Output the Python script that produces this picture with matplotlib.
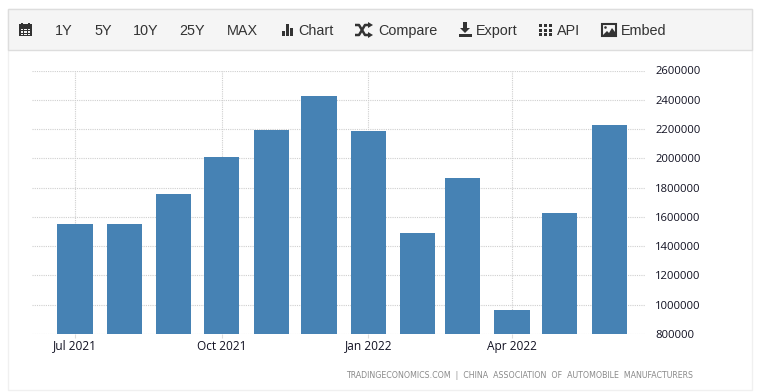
import matplotlib
matplotlib.use("Agg")
import matplotlib.pyplot as plt
import matplotlib.patches as mpatches
from matplotlib.ticker import FuncFormatter
from datetime import datetime, timedelta

W, H = 764, 392

months = ["2021-07", "2021-08", "2021-09", "2021-10", "2021-11", "2021-12",
          "2022-01", "2022-02", "2022-03", "2022-04", "2022-05", "2022-06"]
sales = [1550000, 1550000, 1755000, 2008000, 2192000, 2425000,
         2185000, 1490000, 1865000, 965000, 1625000, 2225000]
y_ticks = [800000, 1000000, 1200000, 1400000, 1600000, 1800000,
           2000000, 2200000, 2400000, 2600000]
x_ticks = ["2021-07", "2021-10", "2022-01", "2022-04"]
x_tick_labels = ["Jul 2021", "Oct 2021", "Jan 2022", "Apr 2022"]
range_buttons = ["1Y", "5Y", "10Y", "25Y", "MAX"]
range_button_x = [64, 103, 146, 192, 242]
menu_items = ["Chart", "Compare", "Export", "API", "Embed"]
menu_item_x = [298.5, 378, 476, 557, 620.5]
source = "TRADINGECONOMICS.COM  |  CHINA  ASSOCIATION  OF  AUTOMOBILE  MANUFACTURERS"

BAR_COLOR = "#4682b4"
TEXT_COLOR = "#333333"
GRID_COLOR = "#cfcfcf"


def to_date(m):
    return datetime.strptime(m, "%Y-%m")


fig = plt.figure(figsize=(W / 100, H / 100), dpi=100, facecolor="white")

# overlay in pixel coordinates for the page furniture (toolbar, frame)
bg = fig.add_axes([0, 0, 1, 1], zorder=0)
bg.set_xlim(0, W)
bg.set_ylim(H, 0)
bg.axis("off")

bg.add_patch(mpatches.Rectangle((8, 9), 744, 381, facecolor="white", edgecolor="#f0f0f0", linewidth=1))
bg.add_patch(mpatches.Rectangle((8, 9), 744, 41, facecolor="#f5f5f5", edgecolor="#dddddd", linewidth=1))

for label, x in zip(range_buttons, range_button_x):
    bg.text(x, 30.5, label, ha="center", va="center", fontsize=10.4,
            family="Liberation Sans", color=TEXT_COLOR)
for label, x in zip(menu_items, menu_item_x):
    bg.text(x, 30.5, label, ha="left", va="center", fontsize=10.4,
            family="Liberation Sans", color=TEXT_COLOR)

ICON = "#333333"
# calendar
bg.add_patch(mpatches.Rectangle((19, 24), 13, 12, facecolor=ICON, edgecolor="none"))
for gx in (21, 24.3, 27.6):
    for gy in (28.5, 31, 33.5):
        bg.add_patch(mpatches.Rectangle((gx, gy), 2.2, 1.5, facecolor="#f5f5f5", edgecolor="none"))
bg.add_patch(mpatches.Rectangle((21, 22.5), 1.6, 2, facecolor=ICON, edgecolor="none"))
bg.add_patch(mpatches.Rectangle((28, 22.5), 1.6, 2, facecolor=ICON, edgecolor="none"))
# chart bars
for bx, top in ((281.5, 31), (285.5, 24), (289.5, 28)):
    bg.add_patch(mpatches.Rectangle((bx, top), 3, 36 - top, facecolor=ICON, edgecolor="none"))
# shuffle arrows
bg.plot([355, 359, 365, 369], [25, 25, 35, 35], color=ICON, lw=1.8, solid_capstyle="butt")
bg.plot([355, 359, 365, 369], [35, 35, 25, 25], color=ICON, lw=1.8, solid_capstyle="butt")
bg.add_patch(mpatches.Polygon([[368, 22], [373, 25], [368, 28]], facecolor=ICON, edgecolor="none"))
bg.add_patch(mpatches.Polygon([[368, 32], [373, 35], [368, 38]], facecolor=ICON, edgecolor="none"))
# export / download
bg.add_patch(mpatches.Rectangle((463, 22), 4, 7, facecolor=ICON, edgecolor="none"))
bg.add_patch(mpatches.Polygon([[460, 28], [470, 28], [465, 33]], facecolor=ICON, edgecolor="none"))
bg.add_patch(mpatches.Rectangle((459, 34), 13, 2.5, facecolor=ICON, edgecolor="none"))
# api grid
for gx in (539, 544, 549):
    for gy in (24, 28.5, 33):
        bg.add_patch(mpatches.Rectangle((gx, gy), 3.4, 3.2, facecolor=ICON, edgecolor="none"))
# embed picture
bg.add_patch(mpatches.Rectangle((602, 24), 14, 12, facecolor="#f5f5f5", edgecolor=ICON, linewidth=1.5))
bg.add_patch(mpatches.Polygon([[603, 35], [607, 31], [609, 33], [612, 28], [615, 32], [615, 35]],
                              facecolor=ICON, edgecolor="none"))
bg.add_patch(mpatches.Circle((605.5, 27.5), 1.3, facecolor=ICON, edgecolor="none"))

bg.text(693.5, 376, source, ha="right", va="center", fontsize=5.65,
        family="DejaVu Sans", color="#8a8a8a")

# main chart, axes box set so the ticks land on the same pixels as the reference
left, right, top, bottom = 32, 645, 70.5, 334
ax = fig.add_axes([left / W, 1 - bottom / H, (right - left) / W, (bottom - top) / H], zorder=1)
ax.patch.set_alpha(0)

dates = [to_date(m) for m in months]
bar_width = timedelta(days=22)
ax.bar(dates, sales, width=bar_width, color=BAR_COLOR, zorder=3)

px_per_day = 1.595
x0 = to_date("2021-07")
ax.set_xlim(x0 - timedelta(days=(75 - left) / px_per_day), x0 + timedelta(days=(right - 75) / px_per_day))
ax.set_ylim(800000, 2600000)

ax.set_xticks([to_date(m) for m in x_ticks])
ax.set_xticklabels(x_tick_labels)
ax.set_yticks(y_ticks)
ax.yaxis.set_major_formatter(FuncFormatter(lambda v, _: f"{v:.0f}"))
ax.yaxis.tick_right()
ax.grid(True, color=GRID_COLOR, linestyle=(0, (1, 1)), linewidth=0.8, zorder=0)
ax.tick_params(axis="x", length=3, color="#dddddd", labelcolor="#111122", labelsize=8.6, pad=1)
ax.tick_params(axis="y", length=0, labelcolor="#111122", labelsize=8.1, pad=7.5)
for lab in ax.get_xticklabels() + ax.get_yticklabels():
    lab.set_family("Open Sans")
for side in ax.spines:
    ax.spines[side].set_visible(False)

fig.savefig("out.png", dpi=100)
plt.close(fig)
